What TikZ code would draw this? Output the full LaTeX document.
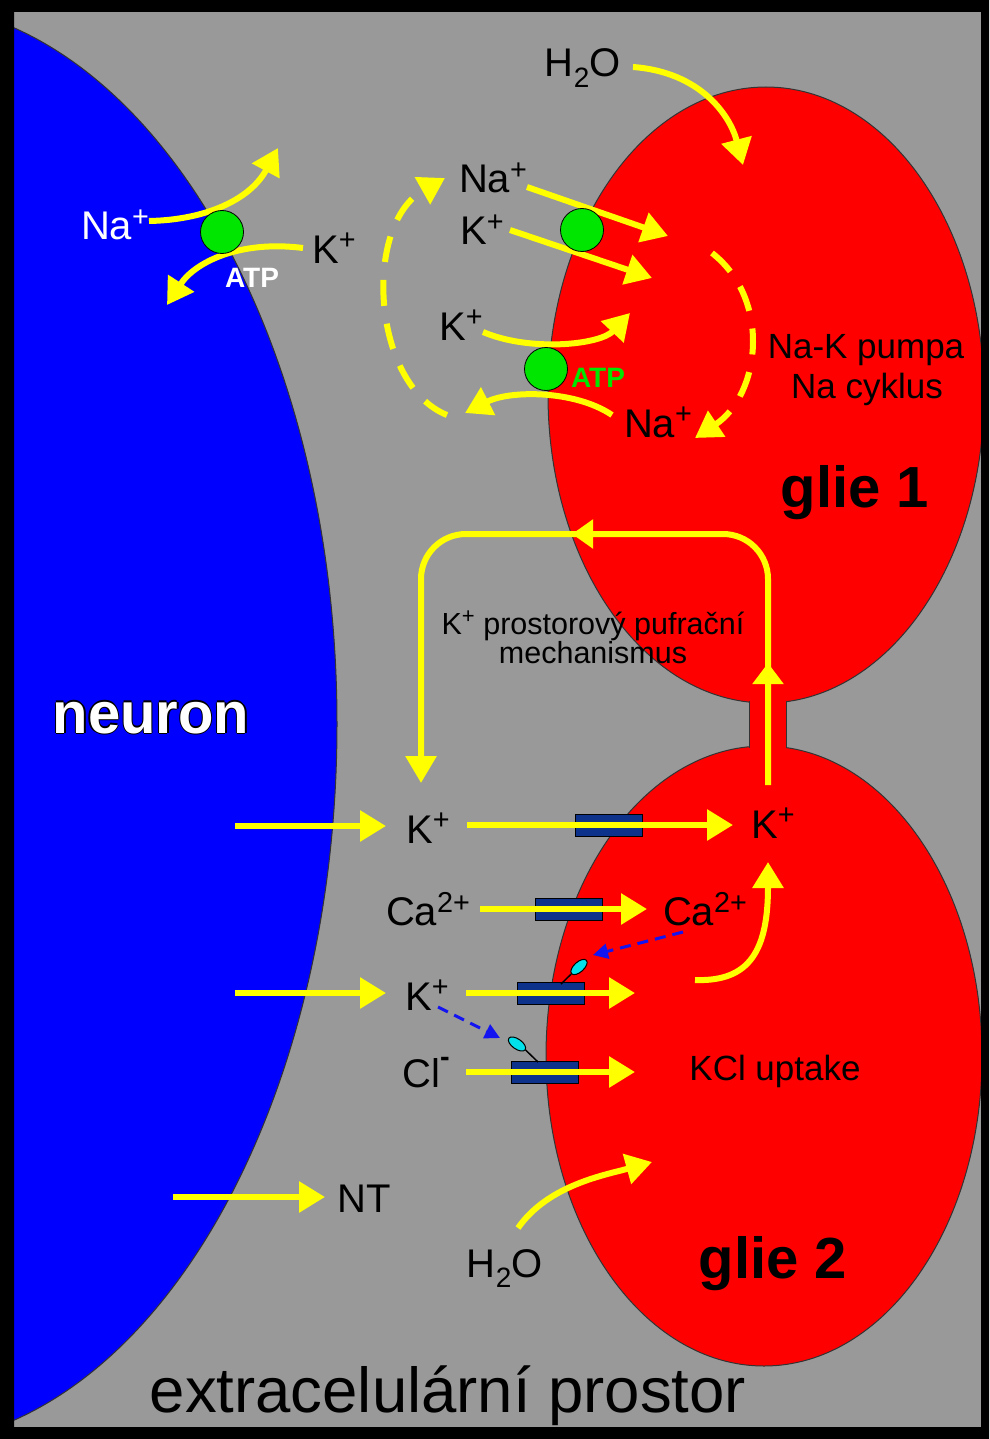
\documentclass[tikz,border=0pt]{standalone}
\usepackage{fontspec}
\setmainfont{Liberation Sans}
\usetikzlibrary{arrows.meta,shapes.geometric}

\definecolor{bggray}{RGB}{153,153,153}
\definecolor{neuronblue}{RGB}{0,0,255}
\definecolor{gliared}{RGB}{255,0,0}
\definecolor{ionyellow}{RGB}{255,255,0}
\definecolor{pumpgreen}{RGB}{0,230,0}
\definecolor{channelblue}{RGB}{12,50,140}
\definecolor{sensorcyan}{RGB}{0,225,235}
\definecolor{signalblue}{RGB}{20,20,240}

% white lettering with a thin black rim
\newcommand\rimmed[1]{\leavevmode
  \rlap{\color{black}\kern-1.3pt#1}%
  \rlap{\color{black}\kern1.3pt#1}%
  \rlap{\color{black}\raisebox{1.3pt}{#1}}%
  \rlap{\color{black}\raisebox{-1.3pt}{#1}}%
  #1}

% charge of an ion, set large and high as in chemical labels
\makeatletter
\newcommand\ionsup[2][0.34em]{\raisebox{#1}{\fontsize{\dimexpr0.72\dimexpr\f@size pt\relax\relax}{0pt}\selectfont #2}}
\makeatother

\tikzset{
  flux/.style={draw=ionyellow, line width=6pt, -{Triangle[length=26pt,width=30pt]}},
  fluxline/.style={draw=ionyellow, line width=6pt},
  cyclepath/.style={flux, dash pattern=on 26pt off 18pt},
  signal/.style={draw=signalblue, line width=3pt, dash pattern=on 11pt off 7pt,
    -{Triangle[length=15pt,width=15pt]}},
  ion/.style={font=\fontsize{40}{40}\selectfont, anchor=base, inner sep=0pt},
  caption/.style={font=\fontsize{35}{35}\selectfont, anchor=base, inner sep=0pt},
  cellname/.style={font=\fontsize{58}{58}\selectfont\bfseries, anchor=base, inner sep=0pt},
  atp/.style={font=\fontsize{28}{28}\selectfont\bfseries, anchor=base, inner sep=0pt},
  pump/.style={circle, fill=pumpgreen, draw=black, line width=0.8pt,
    minimum size=43pt, inner sep=0pt},
  channel/.style={rectangle, fill=channelblue, draw=black, line width=0.8pt,
    minimum width=67pt, minimum height=22pt, inner sep=0pt},
  sensor/.style={ellipse, fill=sensorcyan, draw=black, line width=1pt,
    minimum width=20pt, minimum height=10pt, inner sep=0pt},
  membrane/.style={draw=black!80, line width=1pt},
}

\begin{document}
\begin{tikzpicture}[x=1pt,y=-1pt]
\useasboundingbox (0,0) rectangle (989,1439);

% extracellular space
\fill[bggray] (0,0) rectangle (989,1439);

% neuron body
\begin{scope}
  \clip (14,12) rectangle (981,1427);
  \fill[neuronblue] (-100,724) ellipse [x radius=437pt, y radius=721pt];
  \draw[membrane] (-100,724) ellipse [x radius=437pt, y radius=721pt];
\end{scope}

% two glial cells joined by a narrow bridge
\fill[gliared] (766,395) ellipse [x radius=218pt, y radius=308pt];
\fill[gliared] (764,1056) ellipse [x radius=218pt, y radius=310pt];
\draw[membrane] (766,395) ellipse [x radius=218pt, y radius=308pt];
\draw[membrane] (764,1056) ellipse [x radius=218pt, y radius=310pt];
\fill[gliared] (749.5,690) rectangle (785.5,760);
\draw[membrane] (749,701) -- (749,748);
\draw[membrane] (786,701) -- (786,748);

% frame
\fill[black, even odd rule] (0,0) rectangle (989,1439) (14,12) rectangle (981,1427);

% ---------- labels ----------
\node[cellname, text=white] (neuronlbl) at (151,733) {\rimmed{neuron}};
\node[cellname] (glie1) at (855,507) {glie 1};
\node[cellname] (glie2) at (773,1278) {glie 2};
\node[font=\fontsize{63.5}{63.5}\selectfont, anchor=base, inner sep=0pt] (ecs) at (448,1412) {extracelulární prostor};

\node[caption] (pumpa) at (866,358) {Na-K pumpa};
\node[caption] (cyklus) at (867,398) {Na cyklus};
\node[font=\fontsize{30.5}{27}\selectfont, align=center, anchor=north, inner sep=0pt]
  (buffer) at (593,611) {K\ionsup{+} prostorový pufrační\\mechanismus};
\node[caption] (kcl) at (775,1080) {KCl uptake};

% neuronal pump
\node[ion, text=white] (naN) at (115,240) {Na\ionsup{+}};
\node[ion] (kN) at (334,263) {K\ionsup{+}};
\node[atp, text=white] (atpN) at (252,287) {ATP};

% glial pumps
\node[ion] (naG) at (493,193) {Na\ionsup{+}};
\node[ion] (kG) at (482,245) {K\ionsup{+}};
\node[ion] (kG2) at (461,340) {K\ionsup{+}};
\node[ion] (naG2) at (658,437) {Na\ionsup{+}};
\node[atp, text=pumpgreen] (atpG) at (598,387) {ATP};
\node[ion] (h2oTop) at (583,77) {H\textsubscript{2}O};

% uptake region
\node[ion] (kA) at (428,843) {K\ionsup{+}};
\node[ion] (kIn) at (773,838) {K\ionsup{+}};
\node[ion] (caOut) at (428,925) {Ca\ionsup[0.32em]{2+}};
\node[ion] (caIn) at (705,925) {Ca\ionsup[0.32em]{2+}};
\node[ion] (kB) at (427,1010) {K\ionsup{+}};
\node[ion] (clOut) at (426,1087) {Cl\ionsup[0.52em]{\bfseries -}};
\node[ion] (nt) at (364,1212) {NT};
\node[ion] (h2oBot) at (505,1277) {H\textsubscript{2}O};

% ---------- ion channels and sensors ----------
\node[channel] (chK1) at (609,825) {};
\node[channel] (chCa) at (568.5,909.5) {};
\node[channel] (chK2) at (550.5,993) {};
\node[channel] (chCl) at (545,1072) {};

\node[sensor, rotate=42] (sens1) at (579,967) {};
\node[sensor, rotate=-35] (sens2) at (517,1044) {};
\coordinate (foot1) at (561,984);
\coordinate (foot2) at (538,1062);
\draw[black, line width=1.5pt] (sens1.west) -- (foot1);
\draw[black, line width=1.5pt] (sens2.east) -- (foot2);

% ---------- fluxes ----------
% neuronal Na/K exchange
\coordinate (naN0) at (149,221); \coordinate (naN1) at (278,148);
\coordinate (kN0) at (303,248);  \coordinate (kN1) at (167,305);
\draw[flux] (naN0) .. controls (205,220) and (250,200) .. (naN1);
\draw[flux] (kN0) .. controls (240,240) and (195,262) .. (kN1);

% glial Na/K exchange
\coordinate (naG0) at (527,187); \coordinate (naG1) at (668,236);
\coordinate (kG0) at (510,230);  \coordinate (kG1) at (652,278);
\coordinate (kG20) at (483,332); \coordinate (kG21) at (630,313);
\coordinate (naG20) at (612,415); \coordinate (naG21) at (465,413);
\draw[flux] (naG0) -- (naG1);
\draw[flux] (kG0) -- (kG1);
\draw[flux] (kG20) .. controls (530,352) and (600,345) .. (kG21);
\draw[flux] (naG20) .. controls (575,390) and (510,390) .. (naG21);

% sodium cycle
\coordinate (cycL0) at (447,415); \coordinate (cycL1) at (445,178);
\coordinate (cycR0) at (712,253); \coordinate (cycR1) at (695,438);
\draw[cyclepath] (cycL0) .. controls (372,385) and (362,225) .. (cycL1);
\draw[cyclepath] (cycR0) .. controls (772,300) and (760,395) .. (cycR1);

% water
\coordinate (wT0) at (633,67);  \coordinate (wT1) at (743,165);
\coordinate (wB0) at (518,1228); \coordinate (wB1) at (652,1162);
\draw[flux] (wT0) .. controls (700,72) and (730,115) .. (wT1);
\draw[flux] (wB0) .. controls (548,1185) and (605,1175) .. (wB1);

% release from the neuron
\coordinate (relK1) at (235,826);
\coordinate (relK2) at (235,993);
\coordinate (relNT) at (173,1197);
\draw[flux] (relK1) -- (386,826);
\draw[flux] (relK2) -- (386,993);
\draw[flux] (relNT) -- (325,1197);

% uptake through channels
\coordinate (upK1) at (467,825);  \coordinate (upK1e) at (733,825);
\coordinate (upCa) at (480,909);  \coordinate (upCae) at (647,909);
\coordinate (upK2) at (466,993);  \coordinate (upK2e) at (635,993);
\coordinate (upCl) at (466,1072); \coordinate (upCle) at (635,1072);
\draw[flux] (upK1) -- (upK1e);
\draw[flux] (upCa) -- (upCae);
\draw[flux] (upK2) -- (upK2e);
\draw[flux] (upCl) -- (upCle);

% potassium collected inside glia 2
\coordinate (kc0) at (695,980); \coordinate (kc1) at (768,862);
\draw[flux] (kc0) .. controls (750,982) and (768,950) .. (kc1);

% spatial buffering loop
\coordinate (buf0) at (768,785);
\coordinate (bufTR) at (768,534);
\coordinate (bufTL) at (421,534);
\coordinate (buf1e) at (421,783);
\draw[fluxline, rounded corners=45pt, -{Triangle[length=27pt,width=30pt]}]
  (buf0) -- (bufTR) -- (bufTL) -- (buf1e);
\draw[fluxline, -{Triangle[length=21pt,width=30pt]}] (768,710) -- (768,663);
\draw[fluxline, -{Triangle[length=21pt,width=28pt]}] (620,534) -- (572,534);

% calcium / potassium gating signals
\coordinate (sig1a) at (683,932); \coordinate (sig1b) at (593,955);
\coordinate (sig2a) at (438,1007); \coordinate (sig2b) at (500,1038);
\draw[signal] (sig1a) -- (sig1b);
\draw[signal] (sig2a) -- (sig2b);

% pumps on top
\node[pump] (pumpN) at (222,232) {};
\node[pump] (pumpG1) at (582,230) {};
\node[pump] (pumpG2) at (546,369) {};
\end{tikzpicture}
\end{document}
